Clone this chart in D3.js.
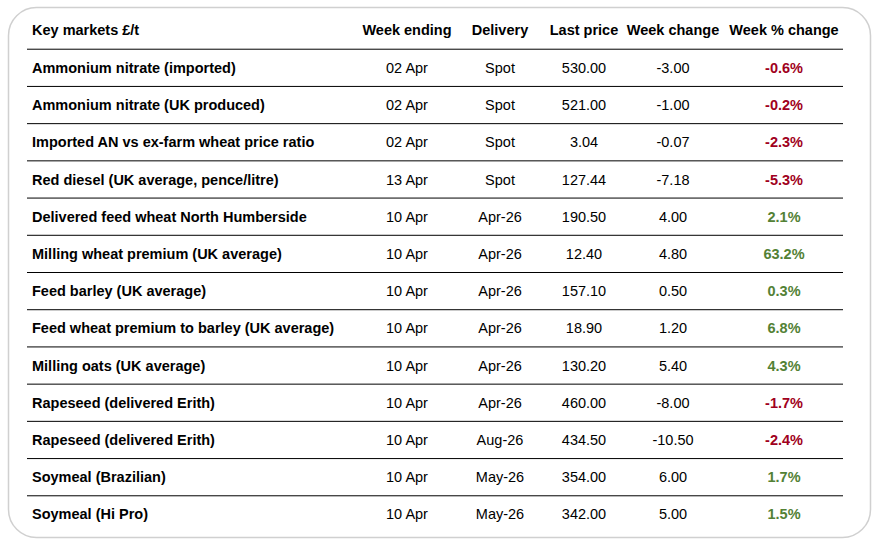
<!DOCTYPE html>
<html><head><meta charset="utf-8">
<script src="https://cdn.jsdelivr.net/npm/d3@7"></script>
<style>body{margin:0;background:#fff}</style>
</head><body>
<script>
const headers = ["Key markets £/t", "Week ending", "Delivery", "Last price", "Week change", "Week % change"];
const markets = ["Ammonium nitrate (imported)", "Ammonium nitrate (UK produced)", "Imported AN vs ex-farm wheat price ratio",
  "Red diesel (UK average, pence/litre)", "Delivered feed wheat North Humberside", "Milling wheat premium (UK average)",
  "Feed barley (UK average)", "Feed wheat premium to barley (UK average)", "Milling oats (UK average)",
  "Rapeseed (delivered Erith)", "Rapeseed (delivered Erith)", "Soymeal (Brazilian)", "Soymeal (Hi Pro)"];
const weekEnding = ["02 Apr", "02 Apr", "02 Apr", "13 Apr", "10 Apr", "10 Apr", "10 Apr", "10 Apr", "10 Apr", "10 Apr", "10 Apr", "10 Apr", "10 Apr"];
const delivery = ["Spot", "Spot", "Spot", "Spot", "Apr-26", "Apr-26", "Apr-26", "Apr-26", "Apr-26", "Apr-26", "Aug-26", "May-26", "May-26"];
const lastPrice = [530.00, 521.00, 3.04, 127.44, 190.50, 12.40, 157.10, 18.90, 130.20, 460.00, 434.50, 354.00, 342.00];
const weekChange = [-3.00, -1.00, -0.07, -7.18, 4.00, 4.80, 0.50, 1.20, 5.40, -8.00, -10.50, 6.00, 5.00];
const weekPct = [-0.6, -0.2, -2.3, -5.3, 2.1, 63.2, 0.3, 6.8, 4.3, -1.7, -2.4, 1.7, 1.5];

const W = 882, H = 547;
const svg = d3.select("body").append("svg").attr("width", W).attr("height", H)
  .style("font-family", "'Liberation Sans', Arial, sans-serif").style("font-size", "14.5px");

svg.append("rect").attr("x", 8.5).attr("y", 7.5).attr("width", 862).attr("height", 530)
  .attr("rx", 28).attr("fill", "#fff").attr("stroke", "#d0d0d0").attr("stroke-width", 1.5);

const colX = [32, 407, 500, 584, 673, 784];
const y = d3.scaleBand().domain(d3.range(-1, markets.length)).range([12, 533]);
const cy = i => y(i) + y.bandwidth() / 2;

// header
svg.append("g").selectAll("text").data(headers).join("text")
  .attr("x", (d, i) => colX[i]).attr("y", cy(-1) - 1).attr("dy", "0.35em")
  .attr("text-anchor", (d, i) => i ? "middle" : "start")
  .attr("font-weight", "bold").attr("fill", "#000").text(d => d);

// separators
svg.append("g").selectAll("line").data(d3.range(-1, markets.length - 1)).join("line")
  .attr("x1", 27).attr("x2", 843)
  .attr("y1", d => y(d) + y.bandwidth()).attr("y2", d => y(d) + y.bandwidth())
  .attr("stroke", "#000").attr("stroke-width", 1);

const fmt = v => v.toFixed(2);
const rows = svg.append("g").selectAll("g").data(markets).join("g")
  .attr("transform", (d, i) => `translate(0,${cy(i)})`);
const cells = (d, i) => [markets[i], weekEnding[i], delivery[i], fmt(lastPrice[i]), fmt(weekChange[i]), weekPct[i].toFixed(1) + "%"];
rows.selectAll("text").data((d, i) => cells(d, i).map((v, j) => ({ v, j, i }))).join("text")
  .attr("x", d => colX[d.j]).attr("dy", "0.35em")
  .attr("text-anchor", d => d.j ? "middle" : "start")
  .attr("font-weight", d => (d.j === 0 || d.j === 5) ? "bold" : "normal")
  .attr("fill", d => d.j === 5 ? (weekPct[d.i] < 0 ? "#a00020" : "#538135") : "#000")
  .text(d => d.v);
</script>
</body></html>
